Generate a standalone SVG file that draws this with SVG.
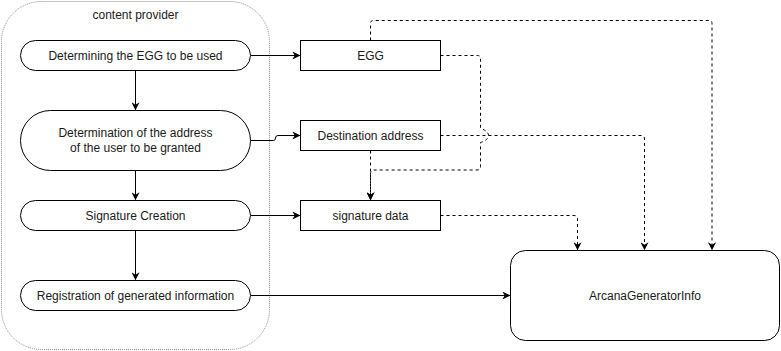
<svg xmlns="http://www.w3.org/2000/svg" width="781" height="351" viewBox="0 0 781 351">
  <defs>
    <marker id="arrow" viewBox="0 0 10 10" refX="9" refY="5" markerWidth="8" markerHeight="8" markerUnits="userSpaceOnUse" orient="auto">
      <path d="M0,0 L10,5 L0,10 L3,5 Z" fill="#000"/>
    </marker>
    <style>
      .node { fill: #fff; stroke: #000; stroke-width: 1; }
      .group { fill: none; stroke: #8c8c8c; stroke-width: 1; stroke-dasharray: 1 1; }
      .label { font-family: "Liberation Sans", Arial, sans-serif; font-size: 12px; fill: #1a1a1a; text-anchor: middle; }
      .edge { fill: none; stroke: #000; stroke-width: 1; marker-end: url(#arrow); }
      .dash { stroke-dasharray: 3 3; }
    </style>
  </defs>
  <rect width="781" height="351" fill="#fff"/>

  <!-- swimlane-like container -->
  <g id="content-provider">
    <rect class="group" x="1.5" y="1.5" width="268" height="348" rx="40" ry="40"/>
    <text class="label" x="135.5" y="19">content provider</text>
  </g>

  <!-- connectors -->
  <g id="connectors">
    <path class="edge" d="M135.5,70.5 V109.5"/>
    <path class="edge" d="M135.5,170.5 V199.5"/>
    <path class="edge" d="M135.5,230.5 V279.5"/>
    <path class="edge" d="M250.5,55.5 H299.5"/>
    <path class="edge" d="M250.5,140.5 H273.5 Q275.5,140.5 275.5,138 Q275.5,135.5 278,135.5 H299.5"/>
    <path class="edge" d="M250.5,215.5 H299.5"/>
    <path class="edge" d="M250.5,295.5 H509.5"/>
    <!-- dashed data links -->
    <path class="edge dash" d="M370.5,40.5 V23.5 Q370.5,20.5 373.5,20.5 H709 Q712,20.5 712,23.5 V249.5"/>
    <path class="edge dash" d="M440.5,55.5 H477.5 Q480.5,55.5 480.5,58.5 V128.5 Q488.5,131 488.5,135.5 Q488.5,140 480.5,142.5 V166.5 Q480.5,170 477,170 H374 Q370.5,170 370.5,174 V199.5"/>
    <path class="edge dash" d="M370.5,150.5 V199.5"/>
    <path class="edge dash" d="M440.5,135.5 H641 Q644.5,135.5 644.5,139 V249.5"/>
    <path class="edge dash" d="M440.5,215.5 H574 Q577.5,215.5 577.5,219 V249.5"/>
  </g>

  <g id="determine-egg">
    <rect class="node" x="20.5" y="40.5" width="230" height="30" rx="15" ry="15"/>
    <text class="label" x="135.5" y="59.5">Determining the EGG to be used</text>
  </g>
  <g id="determine-address">
    <rect class="node" x="20.5" y="110.5" width="230" height="60" rx="30" ry="30"/>
    <text class="label" x="135.5" y="137">Determination of the address</text>
    <text class="label" x="135.5" y="152">of the user to be granted</text>
  </g>
  <g id="signature-creation">
    <rect class="node" x="20.5" y="200.5" width="230" height="30" rx="15" ry="15"/>
    <text class="label" x="135.5" y="219.5">Signature Creation</text>
  </g>
  <g id="registration">
    <rect class="node" x="20.5" y="280.5" width="230" height="30" rx="15" ry="15"/>
    <text class="label" x="135.5" y="299.5">Registration of generated information</text>
  </g>

  <g id="egg">
    <rect class="node" x="300.5" y="40.5" width="140" height="30"/>
    <text class="label" x="370.5" y="59.5">EGG</text>
  </g>
  <g id="destination-address">
    <rect class="node" x="300.5" y="120.5" width="140" height="30"/>
    <text class="label" x="370.5" y="139.5">Destination address</text>
  </g>
  <g id="signature-data">
    <rect class="node" x="300.5" y="200.5" width="140" height="30"/>
    <text class="label" x="370.5" y="219.5">signature data</text>
  </g>

  <g id="arcana-generator-info">
    <rect class="node" x="510.5" y="250.5" width="269" height="90" rx="15" ry="15"/>
    <text class="label" x="645" y="299.5">ArcanaGeneratorInfo</text>
  </g>
</svg>
